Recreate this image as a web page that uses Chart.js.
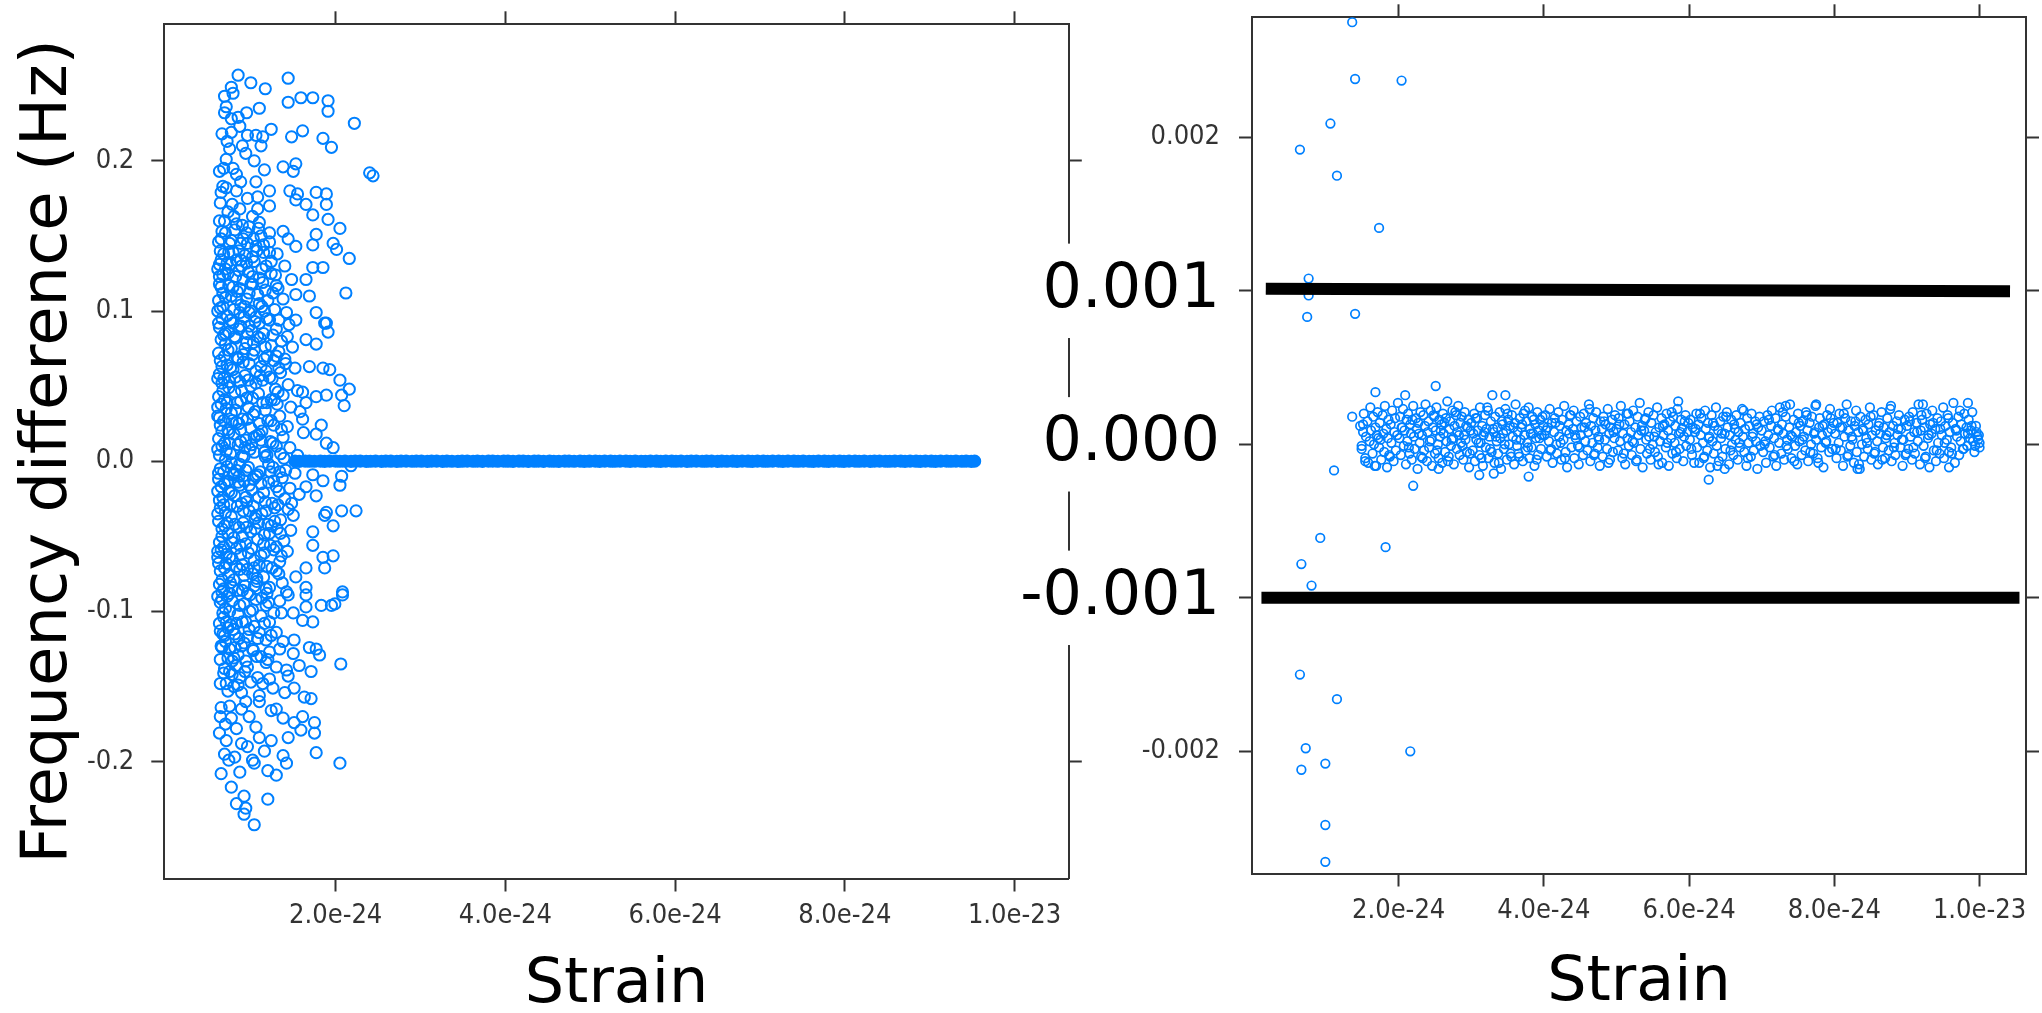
<!DOCTYPE html>
<html>
<head>
<meta charset="utf-8">
<title>Frequency difference vs strain</title>
<script src="https://cdn.jsdelivr.net/npm/chart.js"></script>
<style>
  html, body { margin: 0; padding: 0; background: #fff; overflow: hidden; }
  #wrap { position: relative; width: 2042px; height: 1013px; }
  #wrap canvas { position: absolute; left: 0; top: 0; }
</style>
</head>
<body>
<div id="wrap">
  <canvas id="wideChart" width="2042" height="1013"></canvas>
  <canvas id="zoomChart" width="2042" height="1013"></canvas>
</div>
<script>
// strain is kept in units of 1e-24, frequency differences in Hz unless noted
const strainTicks = [2, 4, 6, 8, 10];
const strainTickLabels = ["2.0e-24", "4.0e-24", "6.0e-24", "8.0e-24", "1.0e-23"];
const wideTicks = [-0.2, -0.1, 0, 0.1, 0.2];
const wideTickLabels = ["-0.2", "-0.1", "0.0", "0.1", "0.2"];
const zoomTicks = [-0.002, -0.001, 0, 0.001, 0.002];
const zoomTickLabels = ["-0.002", "-0.001", "0.000", "0.001", "0.002"];
const bigTickLabels = ["-0.001", "0.000", "0.001"];

// left panel: the scattered cloud at low strain [strain, Hz]
const wideCloud = [
  [0.85,0.257],[1.44,0.255],[1.00,0.252],[1.17,0.248],[0.77,0.249],[0.79,0.245],[0.69,0.243],[1.59,0.242],
  [1.73,0.242],[1.91,0.240],[1.44,0.239],[1.10,0.235],[0.71,0.236],[0.69,0.232],[0.95,0.232],[0.85,0.229],
  [1.91,0.233],[2.22,0.225],[0.87,0.223],[1.24,0.221],[1.61,0.220],[0.66,0.218],[0.77,0.219],[0.96,0.217],
  [1.06,0.217],[1.14,0.216],[1.48,0.216],[1.85,0.215],[1.95,0.209],[1.12,0.210],[0.75,0.208],[0.94,0.205],
  [0.71,0.201],[1.04,0.200],[1.16,0.194],[1.38,0.196],[1.53,0.198],[1.50,0.193],[0.63,0.193],[0.79,0.195],
  [0.83,0.191],[2.40,0.192],[2.44,0.190],[0.67,0.183],[0.65,0.179],[0.83,0.180],[1.06,0.186],[1.22,0.180],
  [0.96,0.175],[1.08,0.176],[1.46,0.180],[1.55,0.178],[1.77,0.179],[1.89,0.178],[1.53,0.174],[1.65,0.171],
  [1.89,0.171],[0.73,0.166],[0.87,0.168],[1.08,0.168],[1.22,0.170],[1.73,0.164],[1.91,0.161],[2.05,0.155],
  [0.83,0.158],[0.98,0.156],[1.10,0.159],[1.22,0.152],[1.38,0.153],[0.65,0.148],[0.75,0.145],[0.91,0.148],
  [1.06,0.143],[1.22,0.146],[1.44,0.148],[1.53,0.143],[1.77,0.151],[1.97,0.145],[1.73,0.144],[2.01,0.141],
  [2.16,0.135],[0.65,0.134],[0.83,0.134],[1.02,0.136],[1.22,0.139],[1.40,0.130],[1.73,0.129],[1.85,0.129],
  [0.63,0.123],[0.73,0.125],[0.79,0.116],[0.91,0.121],[1.02,0.123],[1.14,0.119],[1.32,0.115],[1.48,0.121],
  [1.65,0.121],[2.12,0.112],[0.67,0.112],[0.83,0.108],[0.98,0.112],[1.10,0.105],[1.38,0.108],[1.53,0.111],
  [1.69,0.110],[0.67,0.103],[0.87,0.099],[1.06,0.096],[1.22,0.094],[1.42,0.099],[1.53,0.094],[1.77,0.099],
  [1.89,0.092],[0.79,0.092],[0.98,0.090],
  [0.63,0.118],[0.70,0.128],[0.76,0.131],[0.86,0.127],[0.95,0.132],[1.13,0.128],[0.62,0.107],[0.72,0.097],
  [0.93,0.103],[1.16,0.100],[0.64,0.140],[1.00,0.118],[0.84,0.113],[1.26,0.112],[1.29,0.124],[0.70,0.152],
  [0.86,0.140],[1.12,0.150],[0.96,0.145],[0.63,0.160],[0.78,0.171],[1.02,0.163],[0.68,0.195],[0.72,0.213],
  [0.77,0.228],[0.90,0.210],[0.64,0.172],
  [0.61,0.128],[0.74,0.139],[0.69,0.160],[0.80,0.163],[0.90,0.157],[0.61,0.100],[0.88,0.134],[1.15,0.139],
  [1.24,0.133],[0.98,0.099],[1.10,0.092],[0.71,0.182],[0.88,0.186],
  [0.66,0.095],[0.76,0.094],[0.92,0.096],[1.05,0.093],[1.19,0.095],[1.33,0.094],
  [0.64,0.102],[0.80,0.101],[0.88,0.104],[1.00,0.100],[1.13,0.103],[1.28,0.101],
  [0.70,0.109],[0.77,0.110],[0.95,0.108],[1.08,0.111],[1.20,0.107],
  [0.65,0.116],[0.74,0.117],[0.87,0.115],[1.02,0.118],[1.17,0.114],[1.30,0.117],
  [0.67,0.124],[0.82,0.123],[0.97,0.126],[1.10,0.122],[1.24,0.125],
  [0.63,0.131],[0.72,0.132],[0.89,0.130],[1.04,0.133],[1.18,0.130],
  [0.68,0.138],[0.79,0.139],[0.93,0.137],[1.07,0.140],[1.31,0.138],
  [0.62,0.146],[0.77,0.147],[0.88,0.145],[1.03,0.148],[1.15,0.144],
  [0.66,0.153],[0.81,0.154],[0.95,0.152],[1.09,0.155],
  [0.63,0.089],[0.74,0.086],[0.88,0.090],[1.01,0.087],[1.15,0.085],[1.30,0.088],[1.45,0.091],
  [0.65,0.081],[0.70,0.078],[0.82,0.082],[0.95,0.079],[1.08,0.083],[1.24,0.077],[1.36,0.080],
  [0.62,0.072],[0.77,0.075],[0.91,0.071],[1.04,0.074],[1.19,0.070],[1.33,0.073],[1.49,0.076],
  [0.64,0.067],[0.72,0.064],[0.85,0.068],[0.98,0.065],[1.12,0.063],[1.27,0.067],[1.41,0.065],
  [0.63,0.058],[0.79,0.061],[0.93,0.057],[1.06,0.060],[1.22,0.056],[1.35,0.059],[1.52,0.062],
  [0.66,0.052],[0.74,0.049],[0.87,0.053],[1.00,0.050],[1.14,0.054],[1.29,0.048],[1.44,0.051],
  [0.62,0.043],[0.81,0.046],[0.95,0.042],[1.09,0.045],[1.24,0.041],[1.38,0.044],[1.55,0.047],
  [0.65,0.038],[0.71,0.035],[0.84,0.039],[0.97,0.036],[1.17,0.034],[1.31,0.038],[1.47,0.036],
  [0.63,0.029],[0.77,0.032],[0.90,0.028],[1.03,0.031],[1.20,0.027],[1.34,0.030],[1.58,0.033],
  [0.64,0.024],[0.73,0.021],[0.86,0.025],[1.00,0.022],[1.13,0.020],[1.27,0.024],[1.43,0.023],
  [0.62,0.015],[0.80,0.018],[0.94,0.014],[1.07,0.017],[1.23,0.013],[1.38,0.016],[1.62,0.019],
  [0.66,0.010],[0.71,0.007],[0.85,0.011],[0.99,0.008],[1.16,0.006],[1.30,0.010],[1.46,0.009],
  [0.63,0.004],[0.76,0.005],[0.90,0.0035],[1.04,0.006],[1.19,0.004],[1.35,0.005],[1.55,0.004],
  [0.64,-0.005],[0.72,-0.0035],[0.83,-0.006],[0.97,-0.004],[1.11,-0.007],[1.26,-0.004],[1.41,-0.006],
  [0.62,-0.012],[0.79,-0.009],[0.92,-0.013],[1.06,-0.010],[1.21,-0.014],[1.37,-0.011],[1.52,-0.008],
  [0.65,-0.017],[0.74,-0.020],[0.87,-0.016],[1.01,-0.019],[1.15,-0.021],[1.30,-0.017],[1.46,-0.018],
  [0.63,-0.026],[0.81,-0.023],[0.95,-0.027],[1.09,-0.024],[1.25,-0.028],[1.40,-0.025],[1.57,-0.022],
  [0.64,-0.031],[0.70,-0.034],[0.84,-0.030],[0.98,-0.033],[1.13,-0.035],[1.28,-0.031],[1.44,-0.032],
  [0.62,-0.040],[0.77,-0.037],[0.91,-0.041],[1.05,-0.038],[1.20,-0.042],[1.35,-0.039],[1.50,-0.036],
  [0.66,-0.045],[0.73,-0.048],[0.86,-0.044],[1.00,-0.047],[1.16,-0.049],[1.31,-0.045],[1.47,-0.046],
  [0.63,-0.054],[0.80,-0.051],[0.94,-0.055],[1.08,-0.052],[1.23,-0.056],[1.39,-0.053],
  [0.65,-0.059],[0.71,-0.062],[0.83,-0.058],[0.97,-0.061],[1.12,-0.063],[1.27,-0.059],[1.43,-0.060],
  [0.62,-0.068],[0.78,-0.065],[0.90,-0.069],[1.04,-0.066],[1.19,-0.070],[1.34,-0.067],
  [0.64,-0.073],[0.74,-0.076],[0.87,-0.072],[1.02,-0.075],[1.15,-0.077],[1.30,-0.073],
  [0.63,-0.082],[0.80,-0.079],[0.93,-0.083],[1.07,-0.080],[1.22,-0.084],[1.37,-0.081],
  [0.66,-0.087],[0.72,-0.090],[0.85,-0.086],[0.99,-0.089],[1.13,-0.091],
  [0.68,0.084],[0.81,0.083],[0.96,0.085],[1.11,0.082],[1.26,0.084],
  [0.69,0.070],[0.84,0.069],[1.02,0.071],[1.16,0.068],[1.30,0.070],
  [0.68,0.055],[0.82,0.056],[0.97,0.054],[1.11,0.057],[1.25,0.055],
  [0.69,0.041],[0.88,0.040],[1.02,0.042],[1.14,0.039],[1.28,0.041],
  [0.68,0.027],[0.83,0.026],[0.96,0.028],[1.10,0.025],[1.24,0.027],
  [0.69,0.012],[0.88,0.013],[1.01,0.011],[1.12,0.014],[1.26,0.012],
  [0.68,-0.007],[0.80,-0.008],[0.94,-0.006],[1.08,-0.009],[1.23,-0.007],
  [0.69,-0.015],[0.85,-0.014],[0.98,-0.016],[1.12,-0.015],[1.27,-0.013],
  [0.68,-0.029],[0.89,-0.028],[1.03,-0.030],[1.17,-0.027],[1.32,-0.029],
  [0.69,-0.043],[0.81,-0.042],[0.95,-0.044],[1.09,-0.041],[1.24,-0.043],
  [0.68,-0.057],[0.87,-0.056],[1.01,-0.058],[1.15,-0.055],[1.30,-0.057],
  [0.69,-0.071],[0.83,-0.070],[0.96,-0.072],[1.10,-0.069],[1.25,-0.071],
  [0.68,-0.085],[0.78,-0.084],[0.90,-0.086],[1.04,-0.083],[1.18,-0.085],
  [0.76,0.062],[0.89,0.047],[1.05,0.033],[0.74,0.019],[0.92,0.003],[1.21,-0.002],[0.77,-0.021],[1.06,-0.036],
  [0.90,-0.050],[0.75,-0.064],[1.07,-0.078],[1.18,0.060],[1.32,0.046],[1.10,0.018],[1.39,0.002],[0.87,-0.002],
  [1.33,-0.020],[1.22,-0.048],[1.36,-0.063],[0.93,0.075],[1.43,0.083],[0.61,0.055],[0.61,-0.020],[0.61,0.030],
  [0.61,-0.060],[1.48,-0.028],[1.40,0.068],[0.82,0.034],[0.94,-0.024],[1.28,-0.040],
  [0.62,0.092],[0.70,0.085],[0.73,0.074],[0.66,0.063],[0.75,0.053],[0.67,0.047],[0.72,0.039],[0.61,0.036],
  [0.78,0.027],[0.66,0.020],[0.75,0.012],[0.61,0.008],[0.70,0.001],[0.77,-0.001],[0.62,-0.008],[0.73,-0.013],
  [0.67,-0.024],[0.76,-0.029],[0.61,-0.035],[0.72,-0.041],[0.66,-0.050],[0.78,-0.054],[0.61,-0.064],[0.71,-0.068],
  [0.66,-0.079],[0.76,-0.081],[0.61,-0.090],
  [0.86,0.088],[0.91,0.066],[0.88,0.021],[0.93,0.009],[0.86,-0.010],[0.91,-0.033],[0.88,-0.062],[0.92,-0.076],
  [1.03,0.079],[1.06,0.052],[1.04,0.016],[1.03,-0.012],[1.05,-0.045],[1.04,-0.071],[1.17,0.076],[1.19,0.039],
  [1.17,0.003],[1.18,-0.033],[1.16,-0.061],[1.19,-0.088],[1.33,0.062],[1.36,0.021],[1.34,-0.007],[1.35,-0.048],
  [1.33,-0.075],
  [1.87,0.092],[1.91,0.086],[1.65,0.081],[1.77,0.078],[1.69,0.063],[1.85,0.062],[1.93,0.061],[2.05,0.054],
  [2.16,0.048],[1.61,0.046],[1.77,0.043],[1.89,0.044],[2.07,0.044],[2.10,0.037],[1.65,0.039],[1.61,0.028],
  [1.83,0.024],[1.97,0.009],[1.89,0.012],[1.77,0.018],[2.18,-0.003],[1.73,-0.009],[1.85,-0.013],[2.07,-0.010],
  [2.05,-0.016],[1.77,-0.023],[1.65,-0.017],[2.07,-0.033],[2.24,-0.033],[1.89,-0.034],[1.97,-0.043],[1.87,-0.036],
  [1.73,-0.047],[1.73,-0.056],[1.85,-0.064],[1.97,-0.063],[1.87,-0.071],[1.65,-0.071],[2.08,-0.087],[1.65,-0.084],
  [1.42,-0.087],[1.53,-0.077],
  [0.75,-0.088],[0.96,-0.088],[1.44,-0.089],[1.65,-0.089],[2.08,-0.089],[1.18,-0.096],[0.87,-0.096],[0.75,-0.100],
  [1.02,-0.099],[1.36,-0.101],[1.50,-0.101],[1.65,-0.097],[1.83,-0.096],[1.95,-0.096],[1.99,-0.095],[0.71,-0.107],
  [0.73,-0.111],[0.67,-0.115],[0.83,-0.108],[0.94,-0.107],[1.22,-0.107],[1.61,-0.106],[1.73,-0.107],[1.30,-0.114],
  [1.18,-0.119],[1.38,-0.120],[1.51,-0.119],[1.69,-0.124],[1.77,-0.125],[1.81,-0.129],[0.65,-0.123],[0.81,-0.124],
  [1.02,-0.125],[1.22,-0.127],[1.34,-0.125],[1.50,-0.128],[0.73,-0.131],[0.83,-0.136],[0.96,-0.137],[1.18,-0.134],
  [1.30,-0.137],[1.42,-0.139],[1.57,-0.136],[1.71,-0.140],[2.06,-0.135],[0.75,-0.140],[0.87,-0.144],[1.08,-0.144],
  [1.22,-0.145],[1.44,-0.143],[0.73,-0.153],[0.89,-0.154],[1.10,-0.156],[1.26,-0.151],[1.40,-0.154],[1.51,-0.151],
  [1.63,-0.157],[1.71,-0.158],[0.65,-0.164],[0.75,-0.163],[0.89,-0.165],[0.98,-0.170],[1.10,-0.160],[1.24,-0.166],
  [1.38,-0.171],[1.51,-0.174],[1.61,-0.170],[1.75,-0.174],[0.77,-0.171],[0.63,-0.181],[0.83,-0.178],[0.71,-0.186],
  [0.89,-0.188],[1.06,-0.177],[1.10,-0.184],[1.24,-0.186],[1.44,-0.184],[1.59,-0.179],[1.75,-0.181],[0.69,-0.195],
  [0.81,-0.197],[1.02,-0.199],[1.04,-0.201],[1.20,-0.206],[1.30,-0.209],[1.38,-0.196],[1.42,-0.201],[1.77,-0.194],
  [2.05,-0.201],[0.65,-0.208],[0.87,-0.207],[0.77,-0.217],[0.92,-0.223],[0.83,-0.228],[0.94,-0.231],[0.92,-0.235],
  [1.20,-0.225],[1.04,-0.242],
  [0.66,-0.092],[0.70,-0.098],[0.68,-0.104],[0.79,-0.112],[0.86,-0.118],[0.64,-0.113],[0.70,-0.120],[0.92,-0.121],
  [0.78,-0.133],[0.69,-0.138],[0.85,-0.129],[0.98,-0.112],[1.12,-0.130],[1.08,-0.118],[0.64,-0.148],[0.80,-0.150],
  [0.94,-0.160],[1.14,-0.148],[1.30,-0.165],[0.70,-0.175],[0.64,-0.170],[0.96,-0.190],[1.16,-0.193],[0.74,-0.199],
  [0.64,-0.094],[0.78,-0.093],[0.92,-0.095],[1.06,-0.092],[1.21,-0.094],[1.34,-0.093],
  [0.67,-0.101],[0.85,-0.102],[0.99,-0.100],[1.12,-0.103],[1.27,-0.101],
  [0.63,-0.108],[0.76,-0.109],[0.90,-0.107],[1.04,-0.110],[1.16,-0.108],
  [0.69,-0.116],[0.81,-0.115],[0.96,-0.117],[1.10,-0.114],[1.24,-0.116],
  [0.66,-0.124],[0.75,-0.125],[0.89,-0.123],[1.03,-0.126],
  [0.64,-0.132],[0.80,-0.131],[0.94,-0.133],[1.07,-0.130],[1.20,-0.132],
  [0.68,-0.141],[0.78,-0.142],[0.93,-0.140],
  [0.71,-0.148],[0.85,-0.149],[1.00,-0.147]
];

// left panel: the tight run along 0 Hz (strain, then difference in 1e-5 Hz)
const wideFlatStrain = [
  1.52,1.57,1.64,1.69,1.75,1.82,1.87,1.93,2.00,2.05,2.11,2.18,2.23,2.29,2.36,2.41,2.47,2.54,2.59,2.65,
  2.72,2.77,2.83,2.90,2.95,3.01,3.08,3.13,3.19,3.26,3.31,3.37,3.44,3.49,3.55,3.62,3.67,3.73,3.80,3.85,
  3.91,3.98,4.03,4.09,4.16,4.21,4.27,4.34,4.39,4.45,4.52,4.57,4.63,4.70,4.75,4.81,4.88,4.93,4.99,5.06,
  5.11,5.17,5.24,5.29,5.35,5.42,5.47,5.53,5.60,5.65,5.71,5.78,5.83,5.89,5.96,6.01,6.07,6.14,6.19,6.25,
  6.32,6.37,6.43,6.50,6.55,6.61,6.68,6.73,6.79,6.86,6.91,6.97,7.04,7.09,7.15,7.22,7.27,7.33,7.40,7.45,
  7.51,7.58,7.63,7.69,7.76,7.81,7.87,7.94,7.99,8.05,8.12,8.17,8.23,8.30,8.35,8.41,8.48,8.53,8.59,8.66,
  8.71,8.77,8.84,8.89,8.95,9.02,9.07,9.13,9.20,9.25,9.31,9.38,9.43,9.49,9.53
];
const wideFlatDiff = [
  3,-5,8,1,-2,6,-7,4,9,-1,2,-6,5,7,-3,0,6,-4,8,2,-8,3,5,-2,7,1,-5,4,9,-3,6,0,-6,2,8,-1,4,-7,5,3,
  -2,7,1,-4,6,9,-5,2,4,-3,8,0,-6,5,3,-1,7,-4,2,6,-8,4,1,-2,9,3,-5,6,0,-3,7,2,-6,4,8,-1,5,-4,3,6,
  -2,1,7,-7,4,0,5,-3,8,2,-5,6,1,-1,4,9,-6,3,7,-2,5,0,-4,8,2,-7,6,1,-3,4,9,-1,5,-5,3,7,0,-2,6,4,
  -6,8,1,-3,5,2,-4,7,3,-1,6,0,4,-3,7,1,-5
];

// right panel: points away from the main band [strain, Hz]
const zoomOutliers = [
  [1.36,0.00275],[1.40,0.00238],[2.04,0.00237],[1.06,0.00209],[0.64,0.00192],[1.15,0.00175],[1.73,0.00141],
  [0.76,0.00108],[0.76,0.00097],[0.74,0.00083],[1.40,0.00085],[1.68,0.00034],[1.36,0.00018],[1.11,-0.00017],
  [0.92,-0.00061],[1.82,-0.00067],[0.66,-0.00078],[0.80,-0.00092],[0.64,-0.00150],[1.15,-0.00166],
  [0.72,-0.00198],[0.66,-0.00212],[0.99,-0.00208],[2.16,-0.00200],[0.99,-0.00248],[0.99,-0.00272],
  [2.51,0.00038],[2.09,0.00032],[3.47,0.00032],[3.79,-0.00021],[3.31,-0.00019],[3.11,-0.00020],[2.55,-0.00016],
  [2.20,-0.00027],[5.85,0.00028],[7.33,0.00025],[7.75,0.00026],[9.22,0.00026],[9.84,0.00027],[6.27,-0.00023],
  [9.58,-0.00015],[8.32,-0.00016],[6.49,-0.00016],[1.51,0.00013],[1.54,-0.00011],[1.49,-0.00001],[1.67,-0.00014]
];

// right panel: the main band (strain, then difference in 1e-5 Hz)
const zoomBandStrain = [
  1.47,1.49,1.51,1.52,1.54,1.55,1.57,1.58,1.60,1.61,1.62,1.64,1.65,1.66,1.68,1.69,1.70,1.71,1.73,1.74,
  1.75,1.76,1.78,1.79,1.80,1.81,1.83,1.84,1.85,1.86,1.88,1.89,1.90,1.91,1.93,1.94,1.95,1.96,1.98,1.99,
  2.01,2.02,2.03,2.05,2.06,2.07,2.08,2.10,2.11,2.12,2.13,2.15,2.16,2.17,2.18,2.20,2.21,2.22,2.24,2.25,
  2.26,2.27,2.29,2.30,2.31,2.32,2.34,2.35,2.36,2.37,2.39,2.40,2.41,2.42,2.44,2.45,2.46,2.47,2.49,2.50,
  2.51,2.52,2.54,2.55,2.56,2.57,2.59,2.60,2.61,2.62,2.64,2.65,2.66,2.67,2.69,2.70,2.71,2.72,2.74,2.75,
  2.76,2.77,2.79,2.80,2.81,2.82,2.84,2.85,2.86,2.87,2.89,2.90,2.91,2.92,2.94,2.95,2.96,2.97,2.99,
  3.00,3.02,3.03,3.04,3.05,3.07,3.08,3.09,3.11,3.12,3.13,3.15,3.16,3.17,3.19,3.20,3.21,3.23,3.24,3.25,
  3.27,3.28,3.29,3.31,3.32,3.33,3.35,3.36,3.37,3.39,3.40,3.41,3.43,3.44,3.45,3.47,3.48,3.49,3.51,3.52,
  3.53,3.55,3.56,3.57,3.59,3.60,3.61,3.63,3.64,3.65,3.67,3.68,3.69,3.71,3.72,3.73,3.75,3.76,3.77,3.79,
  3.80,3.81,3.83,3.84,3.85,3.87,3.88,3.89,3.91,3.92,3.93,3.95,3.96,3.97,3.99,
  4.01,4.02,4.04,4.05,4.07,4.08,4.10,4.11,4.12,4.14,4.15,4.17,4.18,4.20,4.21,4.22,4.24,4.25,4.27,4.28,
  4.30,4.31,4.32,4.34,4.35,4.37,4.38,4.40,4.41,4.42,4.44,4.45,4.47,4.48,4.50,4.51,4.52,4.54,4.55,4.57,
  4.58,4.60,4.61,4.62,4.64,4.65,4.67,4.68,4.70,4.71,4.72,4.74,4.75,4.77,4.78,4.80,4.81,4.82,4.84,4.85,
  4.87,4.88,4.90,4.91,4.92,4.94,4.95,4.97,4.98,
  5.00,5.02,5.03,5.05,5.06,5.08,5.09,5.11,5.12,5.14,5.15,5.17,5.18,5.20,5.21,5.23,5.24,5.26,5.27,5.29,
  5.30,5.32,5.33,5.35,5.36,5.38,5.39,5.41,5.42,5.44,5.45,5.47,5.48,5.50,5.51,5.53,5.54,5.56,5.57,5.59,
  5.60,5.62,5.63,5.65,5.66,5.68,5.69,5.71,5.72,5.74,5.75,5.77,5.78,5.80,5.81,5.83,5.84,5.86,5.87,5.89,
  5.90,5.92,5.93,5.95,5.96,5.98,5.99,
  6.01,6.02,6.04,6.05,6.07,6.08,6.10,6.11,6.13,6.14,6.16,6.17,6.19,6.20,6.22,6.23,6.25,6.26,6.28,6.29,
  6.31,6.32,6.34,6.35,6.37,6.38,6.40,6.41,6.43,6.44,6.46,6.47,6.49,6.50,6.52,6.53,6.55,6.56,6.58,6.59,
  6.61,6.62,6.64,6.65,6.67,6.68,6.70,6.71,6.73,6.74,6.76,6.77,6.79,6.80,6.82,6.83,6.85,6.86,6.88,6.89,
  6.91,6.92,6.94,6.95,6.97,6.98,
  7.00,7.02,7.03,7.05,7.06,7.08,7.09,7.11,7.13,7.14,7.16,7.17,7.19,7.20,7.22,7.24,7.25,7.27,7.28,7.30,
  7.31,7.33,7.35,7.36,7.38,7.39,7.41,7.42,7.44,7.46,7.47,7.49,7.50,7.52,7.53,7.55,7.57,7.58,7.60,7.61,
  7.63,7.64,7.66,7.68,7.69,7.71,7.72,7.74,7.75,7.77,7.79,7.80,7.82,7.83,7.85,7.86,7.88,7.90,7.91,7.93,
  7.94,7.96,7.97,7.99,
  8.01,8.03,8.04,8.06,8.07,8.09,8.11,8.12,8.14,8.15,8.17,8.19,8.20,8.22,8.23,8.25,8.27,8.28,8.30,8.31,
  8.33,8.35,8.36,8.38,8.39,8.41,8.43,8.44,8.46,8.47,8.49,8.51,8.52,8.54,8.55,8.57,8.59,8.60,8.62,8.63,
  8.65,8.67,8.68,8.70,8.71,8.73,8.75,8.76,8.78,8.79,8.81,8.83,8.84,8.86,8.87,8.89,8.91,8.92,8.94,8.95,
  8.97,8.99,
  9.00,9.02,9.03,9.05,9.07,9.08,9.10,9.11,9.13,9.15,9.16,9.18,9.19,9.21,9.23,9.24,9.26,9.27,9.29,9.31,
  9.32,9.34,9.35,9.37,9.39,9.40,9.42,9.43,9.45,9.47,9.48,9.50,9.51,9.53,9.55,9.56,9.58,9.59,9.61,9.63,
  9.64,9.66,9.67,9.69,9.71,9.72,9.74,9.75,9.77,9.79,9.80,9.82,9.83,9.85,9.87,9.88,9.90,9.91,9.93,9.95,
  9.96,9.98,9.99,10.00,10.00
];
const zoomBandDiff = [
  12,-3,8,20,-9,5,15,-12,2,24,9,-6,18,0,11,-14,6,21,-2,14,3,-10,19,7,-5,25,10,-15,4,16,-8,13,1,22,-11,8,17,-4,6,27,
  4,18,-7,11,23,-1,9,-13,16,2,20,-6,13,7,-10,25,5,-3,17,10,-16,14,1,21,-8,6,19,-4,12,26,-11,8,15,-2,22,3,-14,11,18,-6,
  9,24,0,-9,16,5,13,-12,20,7,-5,17,2,28,-8,10,15,-1,22,4,-13,12,19,-3,8,25,-7,14,1,18,-10,6,21,3,-5,11,16,-15,9,
  14,-4,7,20,-11,3,17,9,-7,24,1,12,-14,6,19,-2,10,22,-9,5,15,-5,32,8,-12,18,2,11,-6,21,4,-16,13,7,-3,23,9,-10,16,0,
  12,-8,19,5,-13,14,26,-1,8,-6,17,3,11,-11,20,6,-4,15,1,24,-9,10,-2,18,7,-14,13,4,21,-7,9,16,-3,6,12,
  6,19,-8,11,2,23,-3,14,-12,8,17,0,-6,21,5,12,-10,16,3,25,-5,9,-15,13,7,19,-2,10,22,-9,4,15,-1,-13,18,6,11,-7,20,2,
  14,-4,8,26,-11,12,1,17,-6,9,21,-2,5,-14,15,10,-8,18,3,13,-3,23,7,-10,11,16,-5,4,19,
  10,-4,17,2,25,-9,7,13,-13,20,4,-1,15,8,-7,22,1,11,-11,18,6,27,-3,12,-15,9,16,3,-6,21,5,-10,14,0,19,-5,8,24,-8,11,
  2,17,-12,6,13,-2,20,9,-14,15,4,-6,18,1,12,-9,23,7,-3,16,10,-11,5,19,-1,8,14,
  3,16,-7,11,-12,8,20,-2,13,-12,6,17,1,-9,22,10,-4,14,5,-15,19,2,-6,12,24,-1,9,-11,15,4,-8,18,7,-3,21,11,-13,6,16,0,
  -7,13,3,19,-10,8,-2,14,23,5,-5,10,-14,17,1,12,-8,20,7,-4,15,2,-16,11,18,-1,
  9,-5,15,2,-12,19,6,-2,12,22,-8,4,17,-14,10,1,24,-6,13,7,-10,18,3,-3,11,26,-9,5,16,-1,8,-13,20,2,12,-7,15,5,-4,21,
  9,-11,14,0,18,-6,7,25,3,-9,11,17,-2,6,-15,13,1,19,8,-5,23,10,-3,14,
  7,-9,14,1,20,-4,11,-14,5,17,26,-7,9,-1,15,3,-12,12,22,-5,8,-16,18,0,10,-8,16,4,-3,13,24,-10,6,19,-6,9,2,-13,14,7,
  21,-2,11,-9,4,17,-4,8,25,-11,12,1,-7,15,6,19,-2,10,-14,3,16,-6,
  12,-3,18,5,-10,21,8,-6,14,2,26,-13,9,16,-1,11,-8,20,4,-15,13,7,22,-4,10,-11,17,1,-6,15,6,24,-9,12,3,19,-5,8,-2,14,
  27,-12,10,5,18,-7,2,13,-3,20,7,11,-1,16,4,9,21,2,-5,12,8,3,6,1,-2
];

// right panel: more band points overlapping the first pass [strain, 1e-5 Hz]
const zoomBandExtra = [
  [1.72,4],[1.87,-7],[2.04,11],[2.14,-2],[2.19,16],[2.28,7],[2.33,-9],[2.43,2],[2.48,19],[2.53,-4],[2.58,9],
  [2.63,14],[2.68,-11],[2.73,3],[2.78,21],[2.83,6],[2.88,-1],[2.93,12],[2.98,-6],[3.06,17],[3.10,1],[3.14,-9],
  [3.18,8],[3.22,24],[3.26,-3],[3.30,10],[3.34,5],[3.38,-12],[3.42,15],[3.46,0],[3.50,20],[3.54,-6],[3.58,11],
  [3.62,3],[3.66,-8],[3.70,13],[3.74,22],[3.78,-2],[3.82,7],[3.86,16],[3.90,-10],[3.94,4],[3.98,18],
  [4.03,9],[4.09,-4],[4.16,14],[4.23,1],[4.29,-9],[4.36,19],[4.43,6],[4.49,-2],[4.56,11],[4.63,23],[4.69,-7],
  [4.76,3],[4.83,15],[4.89,-12],[4.96,8],
  [5.04,13],[5.10,-6],[5.16,20],[5.22,2],[5.28,-10],[5.34,9],[5.40,17],[5.46,-3],[5.52,5],[5.58,-13],[5.64,12],
  [5.70,1],[5.76,21],[5.82,-5],[5.88,8],[5.94,15],
  [6.03,-3],[6.09,10],[6.15,20],[6.21,-8],[6.27,4],[6.33,14],[6.39,-14],[6.45,7],[6.51,18],[6.57,-4],[6.63,10],
  [6.69,1],[6.75,22],[6.81,-9],[6.87,5],[6.93,13],
  [7.04,0],[7.10,16],[7.18,-7],[7.23,9],[7.29,21],[7.34,-1],[7.40,6],[7.45,-11],[7.51,14],[7.56,3],[7.62,19],
  [7.67,-5],[7.73,8],[7.78,-12],[7.84,12],[7.89,2],[7.95,17],
  [8.02,-3],[8.08,11],[8.13,20],[8.18,-8],[8.24,5],[8.29,15],[8.34,-13],[8.40,9],[8.45,1],[8.50,18],[8.56,-5],
  [8.61,12],[8.66,-10],[8.72,6],[8.77,23],[8.82,-2],[8.88,10],[8.93,3],[8.98,-7],
  [9.04,15],[9.09,-2],[9.14,8],[9.20,19],[9.25,-9],[9.30,6],[9.36,14],[9.41,-4],[9.46,10],[9.52,1],[9.57,17],
  [9.62,-6],[9.68,9],[9.73,22],[9.78,-3],[9.84,7],[9.89,12],[9.94,-1],[9.97,5]
];

// right panel: the two thick reference lines [strain, Hz]
const upperLimit = [[0.17, 0.001013], [10.42, 0.000998]];
const lowerLimit = [[0.11, -0.001], [10.55, -0.001]];

const blue = "#0080ff";
const axisColor = "#333333";
const smallFont = { family: "'Liberation Sans Narrow', 'DejaVu Sans Condensed', 'Liberation Sans', sans-serif", size: 27 };
const bigFont = { family: "'DejaVu Sans', sans-serif", size: 62 };
const titleFamily = "'DejaVu Sans', sans-serif";

const toPoints = (pairs) => pairs.map(([x, y]) => ({ x, y }));
const zipPoints = (xs, ys, unit) =>
  xs.map((x, i) => ({ x, y: ys[i] * unit })).filter((p) => Number.isFinite(p.y));

function fixedTicks(values) {
  return (scale) => {
    scale.ticks = values.map((v) => ({ value: v }));
  };
}

// fix the axis box size and stop label overhang from pushing the plot area
function fixSize(horizontal, size) {
  return (scale) => {
    if (horizontal) scale.height = size;
    else scale.width = size;
    scale.paddingTop = 0;
    scale.paddingBottom = 0;
    scale.paddingLeft = 0;
    scale.paddingRight = 0;
  };
}

const tickGrid = {
  drawOnChartArea: false,
  drawTicks: true,
  tickLength: 13,
  tickColor: axisColor,
  tickWidth: 2,
  color: axisColor,
};
const frame = { display: true, color: axisColor, width: 2 };

function edgeScale(position, min, max, values, size) {
  const horizontal = position === "top" || position === "bottom";
  return {
    type: "linear",
    position,
    min,
    max,
    afterBuildTicks: fixedTicks(values),
    afterFit: fixSize(horizontal, size),
    ticks: { display: false },
    grid: tickGrid,
    border: frame,
  };
}

function strainAxis(height, titlePad) {
  return {
    type: "linear",
    position: "bottom",
    min: -0.02,
    max: 10.64,
    afterBuildTicks: fixedTicks(strainTicks),
    afterFit: fixSize(true, height),
    ticks: {
      callback: (v, i) => strainTickLabels[i],
      font: smallFont,
      color: axisColor,
      padding: 8,
      maxRotation: 0,
      autoSkip: false,
    },
    grid: tickGrid,
    border: frame,
    title: {
      display: true,
      text: "Strain",
      color: "#000",
      font: { family: titleFamily, size: 62, lineHeight: 1 },
      padding: { top: 0, bottom: titlePad },
    },
  };
}

const baseOptions = {
  responsive: false,
  animation: false,
  events: [],
  plugins: { legend: { display: false }, tooltip: { enabled: false } },
};

// left panel: full range
new Chart(document.getElementById("wideChart"), {
  type: "scatter",
  data: {
    datasets: [
      {
        data: toPoints(wideCloud),
        pointStyle: "circle",
        pointRadius: 5.6,
        pointBorderWidth: 2,
        pointBorderColor: blue,
        pointBackgroundColor: "rgba(0,0,0,0)",
        clip: 0,
      },
      {
        data: zipPoints(wideFlatStrain, wideFlatDiff, 1e-5),
        pointStyle: "circle",
        pointRadius: 5.6,
        pointBorderWidth: 2,
        pointBorderColor: blue,
        pointBackgroundColor: blue,
        clip: 0,
      },
    ],
  },
  options: {
    ...baseOptions,
    layout: { padding: { left: 0, right: 959.2, top: 11.3, bottom: 0 } },
    scales: {
      x: strainAxis(134.5, -4),
      xTop: edgeScale("top", -0.02, 10.64, strainTicks, 13),
      y: {
        type: "linear",
        position: "left",
        min: -0.2778,
        max: 0.2909,
        afterBuildTicks: fixedTicks(wideTicks),
        afterFit: fixSize(false, 164.3),
        ticks: {
          callback: (v, i) => wideTickLabels[i],
          font: smallFont,
          color: axisColor,
          padding: 17,
        },
        grid: tickGrid,
        border: frame,
        title: {
          display: true,
          text: "Frequency difference (Hz)",
          color: "#000",
          font: { family: titleFamily, size: 64, lineHeight: 1 },
          padding: { top: 17, bottom: 0 },
        },
      },
      yRight: edgeScale("right", -0.2778, 0.2909, wideTicks, 14),
    },
  },
});

// right panel: zoom around zero with the +-0.001 Hz lines
const isBig = (ctx) => bigTickLabels.includes(zoomTickLabels[ctx.index]);

const zoomPoints = toPoints(zoomOutliers)
  .concat(zipPoints(zoomBandStrain, zoomBandDiff, 1e-5))
  .concat(zoomBandExtra.map(([x, y]) => ({ x, y: y * 1e-5 })));

new Chart(document.getElementById("zoomChart"), {
  type: "scatter",
  data: {
    datasets: [
      {
        data: toPoints(upperLimit),
        showLine: true,
        borderColor: "#000",
        borderWidth: 12,
        borderCapStyle: "butt",
        pointRadius: 0,
        clip: 0,
      },
      {
        data: toPoints(lowerLimit),
        showLine: true,
        borderColor: "#000",
        borderWidth: 12,
        borderCapStyle: "butt",
        pointRadius: 0,
        clip: 0,
      },
      {
        data: zoomPoints,
        pointStyle: "circle",
        pointRadius: 4.3,
        pointBorderWidth: 1.7,
        pointBorderColor: blue,
        pointBackgroundColor: "rgba(0,0,0,0)",
        clip: 0,
      },
    ],
  },
  options: {
    ...baseOptions,
    layout: { padding: { left: 900, right: 2, top: 4.3, bottom: 0 } },
    scales: {
      x: strainAxis(139.5, -2),
      xTop: edgeScale("top", -0.02, 10.64, strainTicks, 13),
      y: {
        type: "linear",
        position: "left",
        min: -0.002796,
        max: 0.002782,
        afterBuildTicks: fixedTicks(zoomTicks),
        afterFit: fixSize(false, 352),
        ticks: {
          callback: (v, i) => zoomTickLabels[i],
          font: (ctx) => (isBig(ctx) ? bigFont : smallFont),
          color: (ctx) => (isBig(ctx) ? "#000" : axisColor),
          padding: 19,
          showLabelBackdrop: (ctx) => isBig(ctx),
          backdropColor: "#ffffff",
          backdropPadding: { top: 10, bottom: 10, left: 10, right: 19 },
        },
        grid: tickGrid,
        border: frame,
      },
      yRight: edgeScale("right", -0.002796, 0.002782, zoomTicks, 14),
    },
  },
});
</script>
</body>
</html>
